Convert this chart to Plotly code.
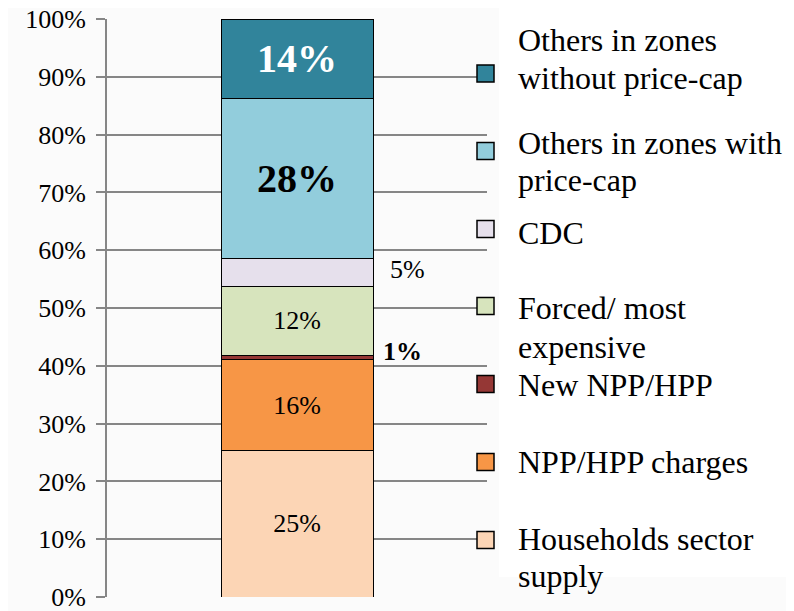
import plotly.graph_objects as go

# ---- data (bottom of stack first) ----
series_names = [
    "Households sector supply",
    "NPP/HPP charges",
    "New NPP/HPP",
    "Forced/ most expensive",
    "CDC",
    "Others in zones with price-cap",
    "Others in zones without price-cap",
]
series_values = [25.3, 15.8, 0.7, 12.0, 4.7, 27.8, 13.7]
series_labels = ["25%", "16%", "1%", "12%", "5%", "28%", "14%"]
legend_lines = [
    ["Households sector", "supply"],
    ["NPP/HPP charges"],
    ["New NPP/HPP"],
    ["Forced/ most", "expensive"],
    ["CDC"],
    ["Others in zones with", "price-cap"],
    ["Others in zones", "without price-cap"],
]
series_colors = ["#FCD5B5", "#F79646", "#953735", "#D7E4BD", "#E6E0EC", "#92CDDC", "#31849B"]
tick_values = [0, 10, 20, 30, 40, 50, 60, 70, 80, 90, 100]
tick_labels = [f"{v}%" for v in tick_values]

# ---- styling ----
SERIF = "Liberation Serif, Times New Roman, serif"
OFF = 8                       # page body margin
VW, VH = 794, 611             # viewport
W, H = VW - OFF, VH - OFF     # figure size
PL, PR, PT, PB = 107, 487, 19, 597   # plot area in viewport pixels
ML, MR, MT, MB = PL - OFF, VW - PR, PT - OFF, VH - PB
PW, PH = PR - PL, PB - PT
GRID = "#868686"

def px_x(px):
    return (px - PL) / PW

def px_y(py):
    return (PB - py) / PH

# label style per segment: (inside?, size, bold, colour)
label_style = [
    (True, 26, False, "black"),
    (True, 26, False, "black"),
    (False, 26, True, "black"),
    (True, 26, False, "black"),
    (False, 26, False, "black"),
    (True, 40, True, "black"),
    (True, 40, True, "white"),
]

fig = go.Figure()
for name, val, lab, col, sty in zip(series_names, series_values, series_labels, series_colors, label_style):
    inside, size, bold, tcol = sty
    fig.add_trace(go.Bar(
        x=[0], y=[val], name=name,
        marker=dict(color=col, line=dict(color="black", width=1)),
        width=1,
        text=[lab] if inside else [""],
        textposition="inside" if inside else "none",
        insidetextanchor="middle",
        textangle=0,
        constraintext="none",
        textfont=dict(family=SERIF, size=size, color=tcol, weight="bold" if bold else "normal"),
        hoverinfo="name+y",
        showlegend=False,
    ))

# outside labels for small segments
cum = []
s = 0
for v in series_values:
    cum.append((s, s + v))
    s += v

annotations = []
lo, hi = cum[4]
annotations.append(dict(x=0.6, y=(lo + hi) / 2, xref="x", yref="y", text=series_labels[4],
                        showarrow=False, xanchor="left", yanchor="middle", yshift=3,
                        font=dict(family=SERIF, size=26, color="black")))
lo, hi = cum[2]
annotations.append(dict(x=0.55, y=hi, xref="x", yref="y", text=f"<b>{series_labels[2]}</b>",
                        showarrow=False, xanchor="left", yanchor="middle", yshift=4,
                        font=dict(family=SERIF, size=26, color="black")))

# ---- manual legend (top item = last series) ----
shapes = []
shapes.append(dict(type="rect", xref="paper", yref="paper",
                   x0=px_x(499), x1=px_x(VW + 2), y0=px_y(577), y1=px_y(7),
                   fillcolor="white", line=dict(width=0), layer="below"))
square_centers = [540, 462, 384, 306, 229, 151, 73.5]
text_baselines = [[549, 586], [472], [395], [318, 357], [243], [153, 190], [50, 89]]
for i, col in enumerate(series_colors):
    cy = square_centers[i]
    shapes.append(dict(type="rect", xref="paper", yref="paper",
                       x0=px_x(477), x1=px_x(494), y0=px_y(cy + 8.5), y1=px_y(cy - 8.5),
                       fillcolor=col, line=dict(color="black", width=1.5), layer="above"))
    for line, base in zip(legend_lines[i], text_baselines[i]):
        annotations.append(dict(x=px_x(516), y=px_y(base - 10.5), xref="paper", yref="paper",
                                text=line, showarrow=False, xanchor="left", yanchor="middle",
                                font=dict(family=SERIF, size=32, color="black")))

fig.update_layout(
    barmode="stack",
    width=W, height=H,
    margin=dict(l=ML, r=MR, t=MT, b=MB, autoexpand=False),
    paper_bgcolor="#fbfbfb",
    plot_bgcolor="#fbfbfb",
    showlegend=False,
    shapes=shapes,
    annotations=annotations,
    xaxis=dict(visible=False, range=[-1.25, 1.25], automargin=False),
    yaxis=dict(
        range=[0, 100],
        tickvals=tick_values, ticktext=tick_labels,
        tickfont=dict(family=SERIF, size=26, color="black"),
        ticks="outside", ticklen=9, tickwidth=2, tickcolor=GRID,
        ticklabelstandoff=5,
        ticklabeloverflow="allow",
        automargin=False,
        showgrid=True, gridcolor=GRID, gridwidth=2,
        zeroline=False,
        showline=True, linecolor=GRID, linewidth=2,
    ),
)

fig.write_html("out.html")
